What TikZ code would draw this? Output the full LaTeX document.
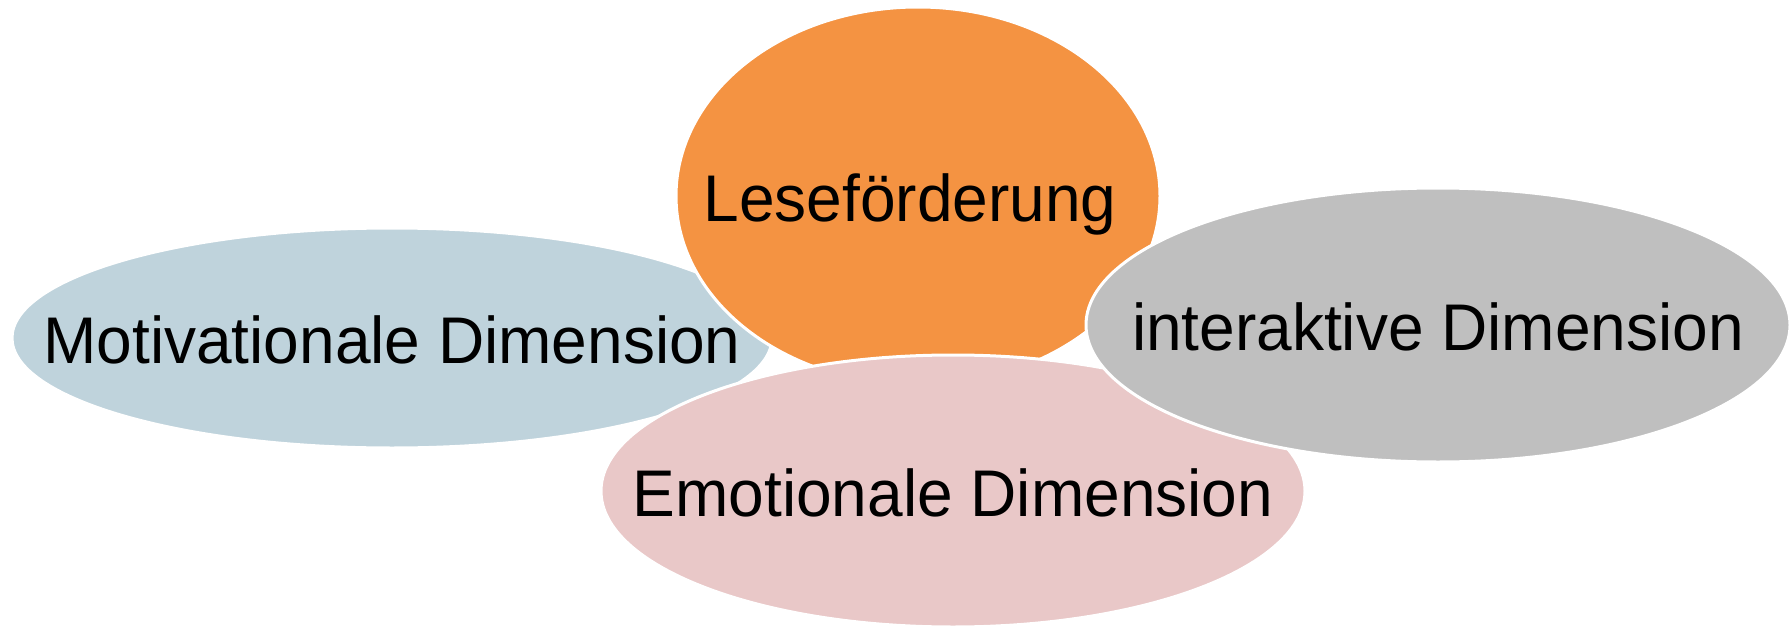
\documentclass[tikz,border=0pt]{standalone}
\usepackage{fontspec}
\newfontfamily\lblfont{Liberation Sans}[FakeStretch=0.97]
\definecolor{cblue}{HTML}{BFD3DC}
\definecolor{corange}{HTML}{F49342}
\definecolor{cpink}{HTML}{E9C8C8}
\definecolor{cgray}{HTML}{BFBFBF}
\begin{document}
\begin{tikzpicture}[x=1pt,y=-1pt,
  blob/.style={draw=white,line width=3pt},
  lbl/.style={anchor=base,inner sep=0pt,font=\lblfont\fontsize{66}{79}\selectfont,text=black}]
\useasboundingbox (0,0) rectangle (1791,626);
\fill[white] (0,0) rectangle (1791,626);
\coordinate (cm) at (392,338);
\coordinate (cl) at (918,196);
\coordinate (ce) at (953,491);
\coordinate (ci) at (1438,325);
\path[blob,fill=cblue] (cm) ellipse [x radius=380,y radius=110];
\path[blob,fill=corange] (cl) ellipse [x radius=242,y radius=189];
\path[blob,fill=cpink] (ce) ellipse [x radius=352,y radius=136];
\path[blob,fill=cgray] (ci) ellipse [x radius=352,y radius=137];
\node[lbl] (tm) at (392,363) {Motivationale Dimension};
\node[lbl] (tl) at (910,221) {Leseförderung};
\node[lbl] (ti) at (1438,350) {interaktive Dimension};
\node[lbl] (te) at (953,516) {Emotionale Dimension};
\end{tikzpicture}
\end{document}
